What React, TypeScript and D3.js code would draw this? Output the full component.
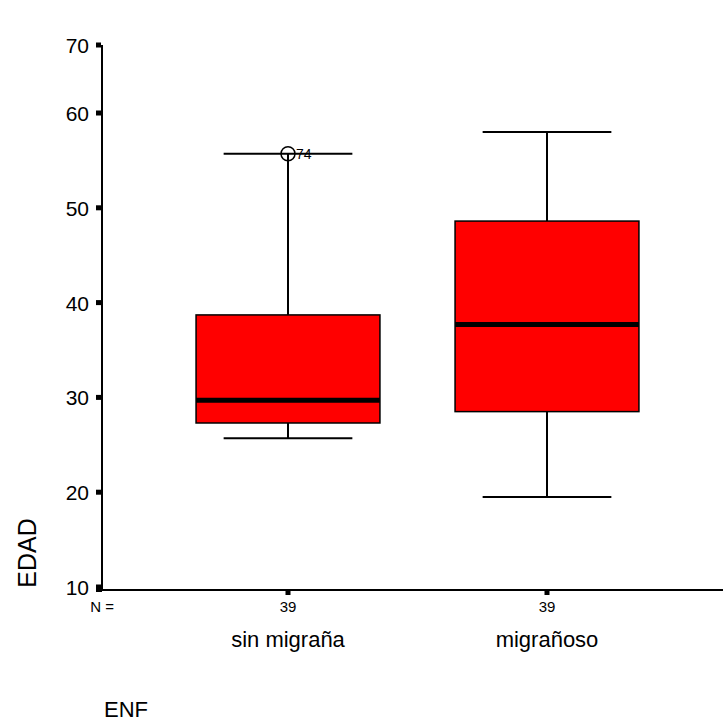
import React from 'react';
import * as d3 from 'd3';

// data
const categories = ['sin migraña', 'migrañoso'];
const counts = [39, 39];
const whiskerLow = [25.7, 19.5];
const q1 = [27.3, 28.5];
const median = [29.7, 37.7];
const q3 = [38.7, 48.6];
const whiskerHigh = [55.7, 58.0];
const outlierValues = [[55.7], []];
const outlierLabels = [['74'], []];
const yTicks = [10, 20, 30, 40, 50, 60, 70];

const W = 723;
const H = 722;
const FONT = 'Liberation Sans, Arial, Helvetica, sans-serif';

export default function App() {
  const axisX = 102;
  const axisY = 590;

  // the axis top is squeezed in the original, 70 sits at the top of the line
  const y = d3.scaleLinear().domain([10, 60, 70]).range([axisY - 3, 113, 45]);

  const x = d3.scaleBand<string>()
    .domain(categories)
    .range([158.5, 676.5])
    .paddingInner(0.29)
    .paddingOuter(0.145);

  const bw = x.bandwidth();
  const capW = bw * 0.7;

  return (
    <svg width={W} height={H} style={{ position: 'absolute', left: 0, top: 0, background: '#fff' }}>
      {/* boxes */}
      {categories.map((c, i) => {
        const x0 = x(c)!;
        const cx = x0 + bw / 2;
        return (
          <g key={c}>
            <line x1={cx} x2={cx} y1={y(whiskerHigh[i])} y2={y(q3[i])} stroke="#000" strokeWidth={2} />
            <line x1={cx} x2={cx} y1={y(q1[i])} y2={y(whiskerLow[i])} stroke="#000" strokeWidth={2} />
            <line x1={cx - capW / 2} x2={cx + capW / 2} y1={y(whiskerHigh[i])} y2={y(whiskerHigh[i])} stroke="#000" strokeWidth={2} />
            <line x1={cx - capW / 2} x2={cx + capW / 2} y1={y(whiskerLow[i])} y2={y(whiskerLow[i])} stroke="#000" strokeWidth={2} />
            <rect x={x0} y={y(q3[i])} width={bw} height={y(q1[i]) - y(q3[i])} fill="#ff0000" stroke="#000" strokeWidth={1.5} />
            <line x1={x0} x2={x0 + bw} y1={y(median[i])} y2={y(median[i])} stroke="#000" strokeWidth={5} />
            {outlierValues[i].map((v, j) => (
              <g key={j}>
                <circle cx={cx} cy={y(v)} r={7} fill="none" stroke="#000" strokeWidth={1.5} />
                <text x={cx + 8} y={y(v) + 5} fontSize={14} fontFamily={FONT}>{outlierLabels[i][j]}</text>
              </g>
            ))}
          </g>
        );
      })}

      {/* y axis */}
      <line x1={axisX} x2={axisX} y1={y(70)} y2={axisY + 1} stroke="#000" strokeWidth={2} />
      {yTicks.map(t => (
        <g key={t}>
          <rect x={axisX - 6} y={y(t) - 2.5} width={5} height={5} fill="#000" />
          <text x={axisX - 13} y={y(t) + 8} textAnchor="end" fontSize={21} fontFamily={FONT}>{t}</text>
        </g>
      ))}

      {/* x axis */}
      <line x1={axisX} x2={W} y1={axisY} y2={axisY} stroke="#000" strokeWidth={2} />
      <rect x={axisX - 6} y={axisY - 3} width={6} height={5} fill="#000" />
      {categories.map((c, i) => {
        const cx = x(c)! + bw / 2;
        return (
          <g key={c}>
            <rect x={cx - 2.5} y={axisY} width={5} height={5} fill="#000" />
            <text x={cx} y={axisY + 22} textAnchor="middle" fontSize={15} fontFamily={FONT}>{counts[i]}</text>
            <text x={cx} y={axisY + 57} textAnchor="middle" fontSize={22} fontFamily={FONT}>{c}</text>
          </g>
        );
      })}
      <text x={axisX + 12} y={axisY + 22} textAnchor="end" fontSize={15} fontFamily={FONT}>N =</text>

      {/* axis titles */}
      <text transform={`translate(36,553) rotate(-90)`} textAnchor="middle" fontSize={25} fontFamily={FONT}>EDAD</text>
      <text x={104} y={717} fontSize={22} fontFamily={FONT}>ENF</text>
    </svg>
  );
}
